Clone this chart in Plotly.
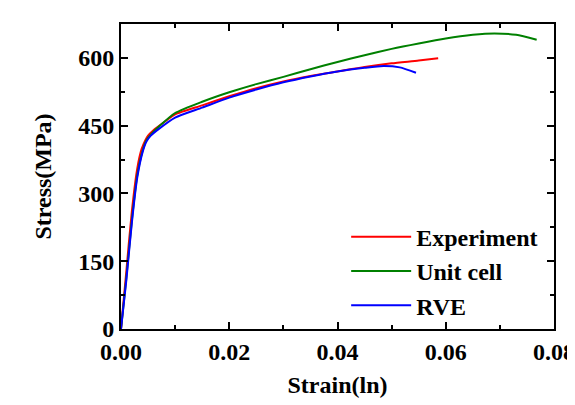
import plotly.graph_objects as go

exp_strain = [0, 0.001, 0.002, 0.003, 0.0038, 0.0045, 0.005, 0.006, 0.008, 0.01,
              0.015, 0.02, 0.025, 0.03, 0.035, 0.04, 0.045, 0.05, 0.055, 0.0586]
exp_stress = [0, 130, 260, 355, 398, 418, 428, 440, 458, 475,
              495, 515, 533, 548, 560, 570, 580, 588, 594, 599]

uc_strain = [0, 0.001, 0.002, 0.003, 0.004, 0.0047, 0.0055, 0.007, 0.01, 0.015,
             0.02, 0.025, 0.03, 0.035, 0.04, 0.045, 0.05, 0.055, 0.06, 0.065,
             0.069, 0.073, 0.0768]
uc_stress = [0, 115, 240, 340, 395, 418, 430, 448, 478, 503,
             524, 542, 558, 575, 591, 606, 620, 632, 643, 651,
             654, 651, 640]

rve_strain = [0, 0.001, 0.002, 0.003, 0.004, 0.0047, 0.0055, 0.007, 0.01, 0.015,
              0.02, 0.025, 0.03, 0.035, 0.04, 0.045, 0.0485, 0.0515, 0.0545]
rve_stress = [0, 110, 235, 335, 392, 415, 428, 443, 468, 490,
              512, 530, 546, 559, 570, 578, 582, 579, 567]

x_ticks = [0, 0.02, 0.04, 0.06, 0.08]
x_labels = ["0.00", "0.02", "0.04", "0.06", "0.08"]
y_ticks = [0, 150, 300, 450, 600]

FONT = "Liberation Serif"
FS = 24

fig = go.Figure()
fig.add_trace(go.Scatter(x=exp_strain, y=exp_stress, mode="lines", name="Experiment",
                         line=dict(color="#ff0000", width=2, shape="spline", smoothing=0.6)))
fig.add_trace(go.Scatter(x=uc_strain, y=uc_stress, mode="lines", name="Unit cell",
                         line=dict(color="#008000", width=2, shape="spline", smoothing=0.6)))
fig.add_trace(go.Scatter(x=rve_strain, y=rve_stress, mode="lines", name="RVE",
                         line=dict(color="#0000ff", width=2, shape="spline", smoothing=0.6)))

axis_common = dict(showgrid=False, zeroline=False, showline=True, linecolor="black",
                   linewidth=2, mirror="allticks", ticks="inside", ticklen=7,
                   tickwidth=2, tickcolor="black", automargin=False,
                   ticklabeloverflow="allow",
                   tickfont=dict(family=FONT, size=FS, color="black", weight="bold"))

fig.update_xaxes(range=[0, 0.08], tickvals=x_ticks, ticktext=x_labels,
                 minor=dict(dtick=0.01, tick0=0, ticks="inside", ticklen=4, tickwidth=2,
                            tickcolor="black"),
                 title=dict(text="Strain(ln)", standoff=12,
                            font=dict(family=FONT, size=FS, color="black", weight="bold")),
                 **axis_common)
fig.update_yaxes(range=[0, 675], tickvals=y_ticks,
                 minor=dict(dtick=75, tick0=0, ticks="inside", ticklen=4, tickwidth=2,
                            tickcolor="black"),
                 title=dict(text="Stress(MPa)", standoff=20,
                            font=dict(family=FONT, size=FS, color="black", weight="bold")),
                 **axis_common)

# page body has an 8px default margin, so the figure is offset by 8px
fig.update_layout(
    width=567, height=397,
    margin=dict(l=113, r=21, t=16, b=76),
    plot_bgcolor="white", paper_bgcolor="white",
    font=dict(family=FONT, color="black"),
    legend=dict(x=0.52, y=0.375, xanchor="left", yanchor="top",
                bgcolor="rgba(0,0,0,0)", itemwidth=60,
                font=dict(family=FONT, size=FS, color="black", weight="bold"),
                tracegroupgap=0),
)

fig.write_html("out.html")
